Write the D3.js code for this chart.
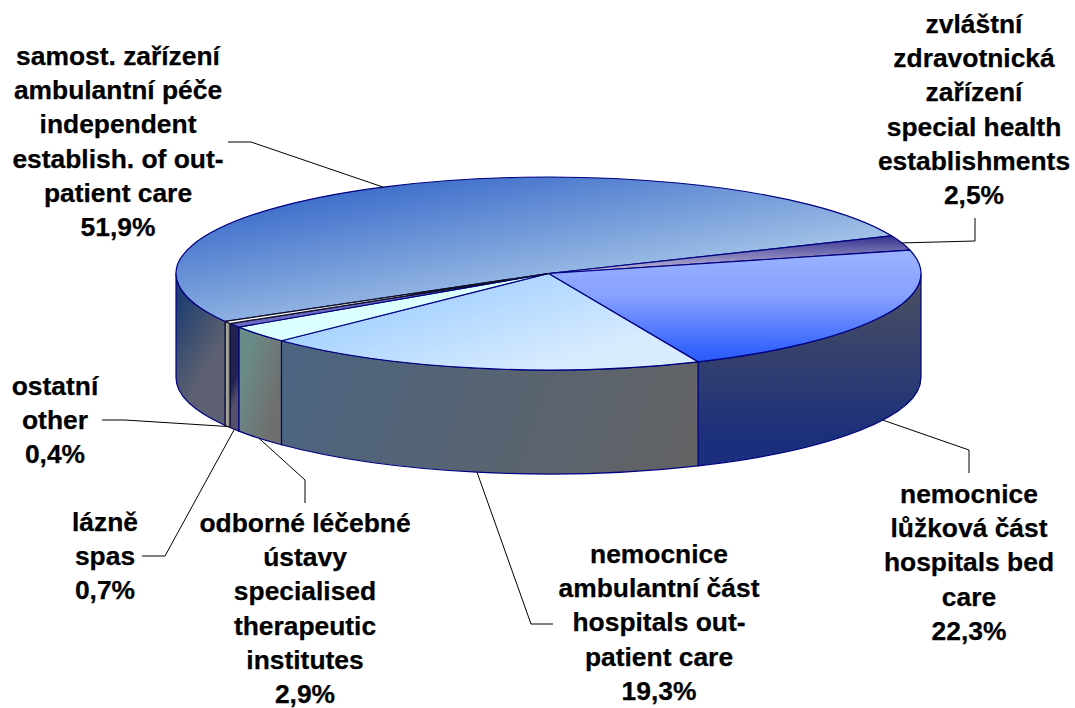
<!DOCTYPE html>
<html>
<head>
<meta charset="utf-8">
<script src="https://cdn.jsdelivr.net/npm/d3@7"></script>
<style>
  html, body { margin: 0; padding: 0; background: #fff; }
  svg { display: block; }
  .label { font: bold 26.4px "Liberation Sans", Arial, sans-serif; fill: #000; stroke: #000; stroke-width: 0.25; text-anchor: middle; }
  .leader { fill: none; stroke: #000; stroke-width: 1; }
</style>
</head>
<body>
<svg id="chart" width="1075" height="708"></svg>
<script>
// Chart data, clockwise from the big slice
const categories = [
  ["samost. zařízení", "ambulantní péče", "independent", "establish. of out-", "patient care"],
  ["zvláštní", "zdravotnická", "zařízení", "special health", "establishments"],
  ["nemocnice", "lůžková část", "hospitals bed", "care"],
  ["nemocnice", "ambulantní část", "hospitals out-", "patient care"],
  ["odborné léčebné", "ústavy", "specialised", "therapeutic", "institutes"],
  ["lázně", "spas"],
  ["ostatní", "other"]
]
const values = [51.9, 2.5, 22.3, 19.3, 2.9, 0.7, 0.4]

// Label placement: centre x and first baseline of each text block
const labelX = [118, 974, 969, 659, 305, 105, 55]
const labelY = [65, 33, 503, 563, 532, 531, 395]
const lineHeight = 34.2

// Leader lines: start next to the label, then the elbow. The end is computed from the slice.
const leaderStart = [[228, 142], [975, 218], [969, 473], [553, 624], [305, 503], [142, 556], [102, 420]]
const leaderElbow = [[251, 142], [975, 241], [969, 450], [531, 624], [305, 480], [165, 556], [125, 420]]

// Top face fill and wall fill per slice, ids refer to the gradients below
const topFill = ["url(#top0)", "url(#top1)", "url(#top2)", "url(#top3)", "#dcffff", "#6a6abf", "#ffffff"]
const wallFill = ["url(#wall0)", "none", "url(#wall2)", "url(#wall3)", "url(#wall4)", "url(#wall5)", "url(#wall6)"]
const strokes = ["#000080", "#000080", "#000080", "#000080", "#000080", "#000080", "#111122"]

// Gradients in page coordinates
const gradients = [
  { id: "top0", p: [330, 180, 355, 325], stops: [[0, "#3567c8"], [1, "#a0c0e6"]] },
  { id: "top1", p: [0, 236, 0, 268], stops: [[0, "#33338f"], [1, "#b4acd2"]] },
  { id: "top2", p: [0, 252, 0, 362], stops: [[0, "#9ab2ff"], [0.4, "#86a1ff"], [0.9, "#3363fb"], [1, "#2c5cf8"]] },
  { id: "top3", p: [500, 274, 530, 372], stops: [[0, "#a8d3ff"], [1, "#d8ebff"]] },
  { id: "wall0", p: [176, 300, 228, 330], stops: [[0, "#1d3d70"], [1, "#5c6070"]] },
  { id: "wall2", p: [0, 280, 0, 440], stops: [[0, "#4a5060"], [1, "#1b2f7c"]] },
  { id: "wall3", p: [300, 340, 680, 470], stops: [[0, "#4c6480"], [1, "#626365"]] },
  { id: "wall4", p: [240, 380, 280, 390], stops: [[0, "#6a8c88"], [1, "#6f6f6f"]] },
  { id: "wall5", p: [229, 390, 239, 395], stops: [[0, "#232350"], [1, "#55506a"]] },
  { id: "wall6", p: [226, 390, 229, 390], stops: [[0, "#b0b0a0"], [1, "#8c8c84"]] }
]

// Geometry of the tilted pie
const cx = 548.5, cy = 273.5, rx = 372.5, ry = 96.5, depth = 104
const svg = d3.select("#chart")

const rad = deg => deg * Math.PI / 180

// Point on the rim for a pie angle (0 = 12 o'clock, clockwise), dropped by dy
const rim = (angle, dy = 0) => [cx + rx * Math.sin(angle), cy - ry * Math.cos(angle) + dy]

const topPath = d => {
  const [x0, y0] = rim(d.startAngle), [x1, y1] = rim(d.endAngle)
  const large = d.endAngle - d.startAngle > Math.PI ? 1 : 0
  return `M${cx},${cy}L${x0},${y0}A${rx},${ry} 0 ${large},1 ${x1},${y1}Z`
}

// Only the part of a slice on the front half of the pie (90..270 deg) has a visible wall
const wallRange = d => {
  for (const shift of [0, 2 * Math.PI]) {
    const a0 = Math.max(d.startAngle + shift, Math.PI / 2)
    const a1 = Math.min(d.endAngle + shift, 3 * Math.PI / 2)
    if (a1 > a0) return [a0, a1]
  }
  return null
}

const wallPath = d => {
  const range = wallRange(d)
  if (!range) return ""
  const [x0, y0] = rim(range[0]), [x1, y1] = rim(range[1])
  return `M${x0},${y0}A${rx},${ry} 0 0,1 ${x1},${y1}L${x1},${y1 + depth}` +
    `A${rx},${ry} 0 0,0 ${x0},${y0 + depth}Z`
}

// Where the leader touches the slice: mid angle, on the wall if it faces the viewer
const leaderEnd = d => {
  const mid = (d.startAngle + d.endAngle) / 2
  const normal = (mid + 2 * Math.PI) % (2 * Math.PI)
  const front = normal > Math.PI / 2 && normal < 3 * Math.PI / 2
  return rim(mid, front ? depth : 0)
}

const pie = d3.pie().sort(null).value(d => d)
  .startAngle(rad(-119.8)).endAngle(rad(240.2))
const slices = pie(values)

// Gradient definitions
const defs = svg.append("defs")
gradients.forEach(g => {
  const grad = defs.append("linearGradient")
    .attr("id", g.id)
    .attr("gradientUnits", "userSpaceOnUse")
    .attr("x1", g.p[0]).attr("y1", g.p[1])
    .attr("x2", g.p[2]).attr("y2", g.p[3])
  grad.selectAll("stop").data(g.stops).join("stop")
    .attr("offset", s => s[0])
    .attr("stop-color", s => s[1])
})

// Walls first, then the top faces over them
svg.append("g").selectAll("path")
  .data(slices.filter(wallRange))
  .join("path")
  .attr("d", wallPath)
  .attr("fill", d => wallFill[d.index])
  .attr("stroke", d => strokes[d.index])
  .attr("stroke-width", 1.2)
  .attr("stroke-linejoin", "round")

svg.append("g").selectAll("path")
  .data(slices)
  .join("path")
  .attr("d", topPath)
  .attr("fill", d => topFill[d.index])
  .attr("stroke", d => strokes[d.index])
  .attr("stroke-width", 1.2)
  .attr("stroke-linejoin", "round")

// Leader lines
svg.append("g").selectAll("polyline")
  .data(slices)
  .join("polyline")
  .attr("class", "leader")
  .attr("points", d => [leaderStart[d.index], leaderElbow[d.index], leaderEnd(d)].join(" "))

// Labels, category lines followed by the value with a decimal comma
const formatValue = v => v.toFixed(1).replace(".", ",") + "%"
const labels = svg.append("g").selectAll("text")
  .data(slices)
  .join("text")
  .attr("class", "label")
  .attr("x", d => labelX[d.index])
  .attr("y", d => labelY[d.index])

labels.selectAll("tspan")
  .data(d => categories[d.index].concat(formatValue(d.value)).map((line, i) => ({ line, i, x: labelX[d.index] })))
  .join("tspan")
  .attr("x", t => t.x)
  .attr("dy", t => t.i ? lineHeight : 0)
  .text(t => t.line)
</script>
</body>
</html>
